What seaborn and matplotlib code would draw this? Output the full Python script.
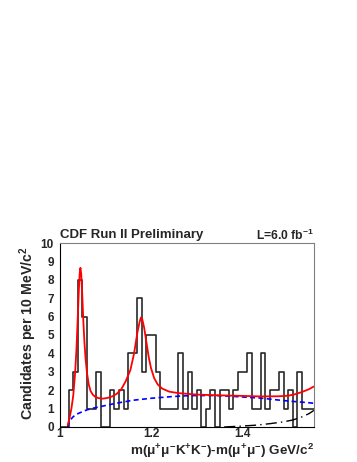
import numpy as np
import pandas as pd
import matplotlib.pyplot as plt
import seaborn as sns

# candidates per 10 MeV bin, starting at 1.00 GeV
counts = [0, 0, 2, 3, 8, 6, 1, 1, 3, 0,
          0, 2, 1, 2, 1, 4, 4, 7, 3, 5,
          5, 3, 1, 1, 1, 1, 4, 1, 3, 1,
          2, 0, 1, 2, 0, 2, 2, 1, 2, 3,
          3, 4, 1, 1, 4, 1, 2, 2, 3, 1,
          2, 0, 3, 1, 1, 1]
bin_lo = 1.0
bin_w = 0.01

# total fit (red)
fit_x = [1.018, 1.022, 1.026, 1.030, 1.034, 1.037, 1.040, 1.042, 1.044, 1.0457,
         1.0475, 1.0495, 1.052, 1.0545, 1.057, 1.060, 1.064, 1.068, 1.073, 1.078,
         1.085, 1.095, 1.105, 1.115, 1.125, 1.135, 1.145, 1.155, 1.163, 1.170,
         1.175, 1.178, 1.181, 1.185, 1.190, 1.195, 1.200, 1.207, 1.215, 1.225,
         1.240, 1.260, 1.300, 1.350, 1.400, 1.440, 1.480, 1.500, 1.515, 1.530,
         1.545, 1.556]
fit_y = [0.1, 0.5, 1.0, 1.7, 2.9, 4.2, 6.0, 7.3, 8.3, 8.65,
         8.3, 7.3, 5.8, 4.6, 3.7, 2.95, 2.3, 1.95, 1.75, 1.64,
         1.57, 1.54, 1.58, 1.66, 1.8, 2.05, 2.5, 3.1, 4.0, 5.1,
         5.7, 5.95, 5.85, 5.4, 4.6, 3.8, 3.2, 2.65, 2.3, 2.08,
         1.92, 1.84, 1.76, 1.72, 1.69, 1.66, 1.67, 1.70, 1.78, 1.90,
         2.05, 2.2]

# combinatorial background (blue dashed)
bkg_x = [1.018, 1.020, 1.025, 1.030, 1.038, 1.047, 1.060, 1.075, 1.090, 1.110,
         1.133, 1.160, 1.200, 1.240, 1.270, 1.300, 1.340, 1.370, 1.400, 1.440,
         1.480, 1.510, 1.540, 1.556]
bkg_y = [0.0, 0.2, 0.42, 0.56, 0.7, 0.8, 0.93, 1.03, 1.11, 1.22,
         1.33, 1.45, 1.56, 1.64, 1.69, 1.71, 1.71, 1.68, 1.63, 1.57,
         1.46, 1.39, 1.33, 1.29]

# reflection component (black dash-dot)
refl_x = [1.36, 1.40, 1.43, 1.46, 1.49, 1.51, 1.53, 1.545, 1.556]
refl_y = [0.0, 0.05, 0.1, 0.18, 0.28, 0.38, 0.55, 0.72, 0.9]

sns.set_style("white")
plt.rcParams['font.family'] = ['Liberation Sans', 'DejaVu Sans']
plt.rcParams['font.weight'] = 'bold'
plt.rcParams['mathtext.fontset'] = 'custom'
plt.rcParams['mathtext.rm'] = 'Liberation Sans:bold'
plt.rcParams['mathtext.it'] = 'Liberation Sans:bold'
plt.rcParams['mathtext.bf'] = 'Liberation Sans:bold'

fig = plt.figure(figsize=(3.57, 4.62), dpi=100)
ax = fig.add_axes([0.1667, 0.0758, 0.7137, 0.3982])

edges = [bin_lo + bin_w * i for i in range(len(counts) + 1)]
df = pd.DataFrame({"mass": [e + bin_w / 2 for e in edges[:-1]], "n": counts})
sns.histplot(data=df, x="mass", weights="n", bins=edges, element="step",
             fill=False, color="#2a2a2a", linewidth=1.2, ax=ax)

sns.lineplot(x=bkg_x, y=bkg_y, color="blue", linewidth=1.2,
             linestyle=(0, (3, 2)), ax=ax)
sns.lineplot(x=refl_x, y=refl_y, color="black", linewidth=1.0,
             linestyle=(0, (8, 3, 1, 3)), ax=ax)
sns.lineplot(x=fit_x, y=fit_y, color="red", linewidth=1.3, ax=ax)

ax.set_xlim(1.0, 1.557)
ax.set_ylim(0, 10)
ax.set_xticks([1.0, 1.2, 1.4])
ax.set_xticklabels(["1", "1.2", "1.4"])
ax.set_xticks(np.arange(1.0, 1.56, 0.05), minor=True)
ax.set_yticks(range(11))
ax.tick_params(axis="y", direction="in", length=8, width=1, labelsize=8.5, pad=4)
ax.tick_params(axis="x", which="major", direction="in", length=5, width=1,
               labelsize=8.5, pad=1)
ax.tick_params(axis="x", which="minor", direction="in", length=2.5, width=0.8)
ax.set_xlabel("")
ax.set_ylabel("")
for s in ["top", "right"]:
    ax.spines[s].set_color("#808080")
for s in ["left", "bottom"]:
    ax.spines[s].set_color("black")

fig.text(0.1667, 0.491, "CDF Run II Preliminary", ha="left", va="center",
         fontsize=9.5, fontweight="bold")
fig.text(0.880, 0.491, r"L=6.0 fb$^{-1}$", ha="right", va="center",
         fontsize=8.7, fontweight="bold")
fig.text(0.078, 0.4675, r"Candidates per 10 MeV/c$^{2}$", rotation=90,
         ha="center", va="top", fontsize=10.2, fontweight="bold")
fig.text(0.880, 0.0445, r"m(μ$^{+}$μ$^{-}$K$^{+}$K$^{-}$)-m(μ$^{+}$μ$^{-}$) GeV/c$^{2}$",
         ha="right", va="top", fontsize=9.7, fontweight="bold")

fig.savefig("out.png", dpi=100)
